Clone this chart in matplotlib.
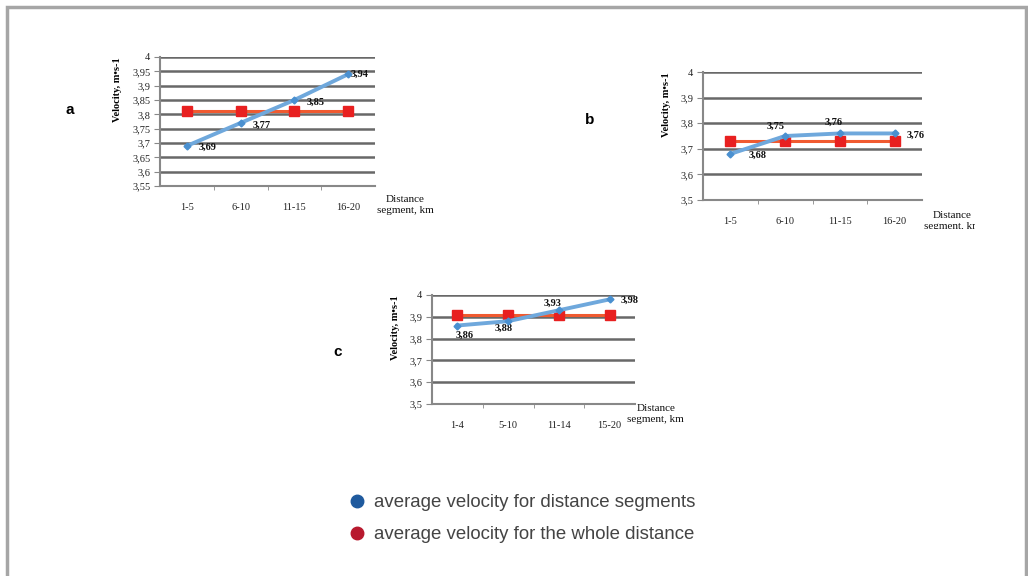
import matplotlib
matplotlib.use('Agg')
from matplotlib import pyplot as plt
from matplotlib.ticker import FuncFormatter, FixedLocator
from matplotlib.patches import Rectangle
from matplotlib.lines import Line2D
from matplotlib.transforms import Bbox

# panel a
cats_a = ['1-5', '6-10', '11-15', '16-20']
seg_a = [3.69, 3.77, 3.85, 3.94]
whole_a = [3.81, 3.81, 3.81, 3.81]
yt_a = [3.55, 3.6, 3.65, 3.7, 3.75, 3.8, 3.85, 3.9, 3.95, 4.0]

# panel b
cats_b = ['1-5', '6-10', '11-15', '16-20']
seg_b = [3.68, 3.75, 3.76, 3.76]
whole_b = [3.73, 3.73, 3.73, 3.73]
yt_b = [3.5, 3.6, 3.7, 3.8, 3.9, 4.0]

# panel c
cats_c = ['1-4', '5-10', '11-14', '15-20']
seg_c = [3.86, 3.88, 3.93, 3.98]
whole_c = [3.91, 3.91, 3.91, 3.91]
yt_c = [3.5, 3.6, 3.7, 3.8, 3.9, 4.0]

legend_labels = ['average velocity for distance segments',
                 'average velocity for the whole distance']

W, H = 1028, 576
SERIF = 'Liberation Serif'


def px_axes(fig, l, t, r, b):
    return fig.add_axes([l / W, 1 - b / H, (r - l) / W, (b - t) / H])


def comma(v, pos=None):
    return f'{v:g}'.replace('.', ',')


def draw_panel(ax, cats, seg, whole, yticks, offsets, xlab_off, xlab_clip=None):
    x = range(len(cats))
    ax.set_xlim(-0.5, len(cats) - 0.5)
    ax.set_ylim(yticks[0], yticks[-1])
    for y in yticks[1:]:
        ax.axhline(y, color='#4d4d4d', lw=1.8, alpha=0.85, zorder=1)
    ax.plot(x, whole, color='#f05a30', lw=2.2, marker='s', ms=7,
            mfc='#e82020', mec='#e82020', zorder=3)
    ax.plot(x, seg, color='#6fa8dc', lw=2.8, marker='D', ms=3.5,
            mfc='#4a90d0', mec='#4a90d0', zorder=4)
    for xi, v, (dx, dy) in zip(x, seg, offsets):
        ax.annotate(comma(v), (xi, v), xytext=(dx, dy), textcoords='offset points',
                    ha='left', va='center', fontsize=7.5, fontweight='bold',
                    family=SERIF, color='#111111')
    for s in ['top', 'right']:
        ax.spines[s].set_visible(False)
    for s in ['left', 'bottom']:
        ax.spines[s].set_color('#888888')
        ax.spines[s].set_linewidth(1.5)
    ax.set_xticks(list(x))
    ax.set_xticklabels(cats, family=SERIF, fontsize=7.5, color='#222222')
    ax.xaxis.set_minor_locator(FixedLocator([0.5, 1.5, 2.5]))
    ax.tick_params(axis='x', which='major', length=0, pad=12)
    ax.tick_params(axis='x', which='minor', length=3, color='#888888')
    ax.set_yticks(yticks)
    ax.yaxis.set_major_formatter(FuncFormatter(comma))
    ax.tick_params(axis='y', length=4, color='#888888', labelsize=7.5, pad=3)
    for lab in ax.get_yticklabels():
        lab.set_family(SERIF)
        lab.set_color('#222222')
    ax.set_ylabel('Velocity, m\u2022s-1', family=SERIF, fontsize=7.5,
                  fontweight='bold', loc='top', labelpad=7)
    t = ax.annotate('Distance\nsegment, km', (1, 0), xycoords='axes fraction',
                    xytext=xlab_off, textcoords='offset points',
                    ha='center', va='center', multialignment='center',
                    family=SERIF, fontsize=8, linespacing=1.3, color='#111111',
                    annotation_clip=False)
    if xlab_clip is not None:
        t.set_clip_on(True)
        t.set_clip_box(xlab_clip)


fig = plt.figure(figsize=(W / 100, H / 100), dpi=100)

# grey frame
fig.patches.append(Rectangle((7 / W, -0.1), 1019 / W, 1.1 - 7 / H, transform=fig.transFigure,
                             fill=False, edgecolor='#a6a6a6', lw=2.5))

ax_a = px_axes(fig, 160, 57, 375, 186)
draw_panel(ax_a, cats_a, seg_a, whole_a, yt_a,
           [(8.5, -1), (8.5, -1.5), (8.5, -1.5), (1.5, 0)], (22, -14))

ax_b = px_axes(fig, 703, 72, 922, 200)
clip = Bbox([[0, H - 229], [975, H]])
draw_panel(ax_b, cats_b, seg_b, whole_b, yt_b,
           [(13, -1), (-13, 7), (-11, 8), (8.5, -1)], (22, -15), xlab_clip=clip)

ax_c = px_axes(fig, 432, 295, 635, 404)
draw_panel(ax_c, cats_c, seg_c, whole_c, yt_c,
           [(-1.5, -7), (-9.5, -5), (-11, 5), (8, -1)], (15, -7.5))

for lab, (xx, yy) in zip(['a', 'b', 'c'], [(70, 110), (590, 120), (338, 352)]):
    fig.text(xx / W, 1 - yy / H, lab, fontsize=11, fontweight='bold',
             family='Liberation Sans', ha='center', va='center')

# legend
for (yy, col), lab in zip([(501, '#1f5a9e'), (533, '#b8192e')], legend_labels):
    fig.add_artist(Line2D([357 / W], [1 - yy / H], marker='o', ms=9, color=col,
                          transform=fig.transFigure))
    fig.text(374 / W, 1 - (yy + 6) / H, lab, color='#444444', fontsize=13.4, ha='left',
             va='baseline', family='Liberation Sans')

fig.savefig('out.png', dpi=100)
